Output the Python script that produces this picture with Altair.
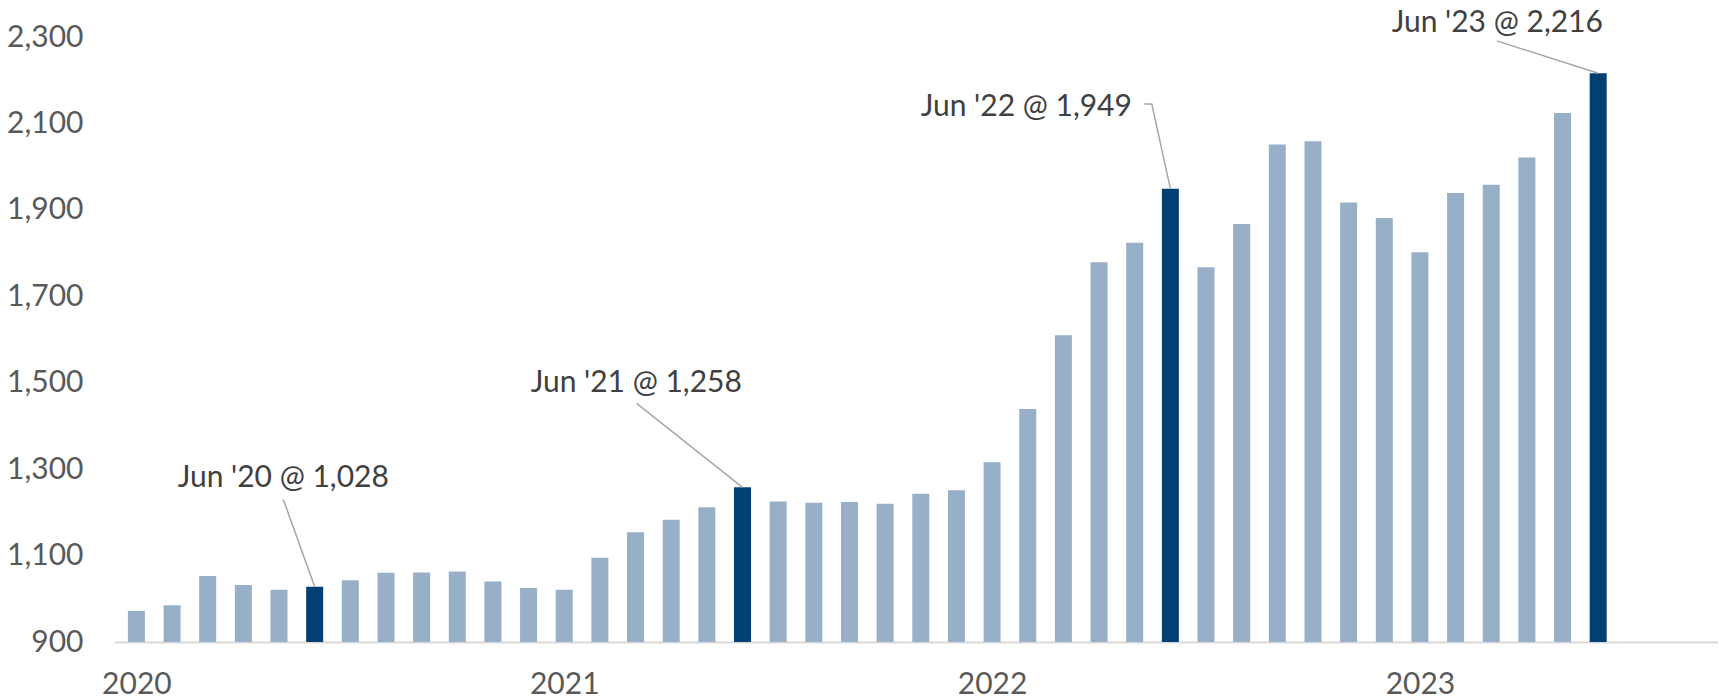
import altair as alt
import pandas as pd

months = [
    "2020-01", "2020-02", "2020-03", "2020-04", "2020-05", "2020-06",
    "2020-07", "2020-08", "2020-09", "2020-10", "2020-11", "2020-12",
    "2021-01", "2021-02", "2021-03", "2021-04", "2021-05", "2021-06",
    "2021-07", "2021-08", "2021-09", "2021-10", "2021-11", "2021-12",
    "2022-01", "2022-02", "2022-03", "2022-04", "2022-05", "2022-06",
    "2022-07", "2022-08", "2022-09", "2022-10", "2022-11", "2022-12",
    "2023-01", "2023-02", "2023-03", "2023-04", "2023-05", "2023-06",
]
values = [
    972, 985, 1053, 1032, 1021, 1028, 1043, 1060, 1061, 1063, 1040, 1025,
    1021, 1095, 1154, 1183, 1212, 1258, 1225, 1222, 1224, 1220, 1243, 1251,
    1316, 1439, 1610, 1779, 1824, 1949, 1767, 1867, 2051, 2059, 1917, 1881,
    1802, 1939, 1958, 2021, 2124, 2216,
]
year_labels = ["2020", "2021", "2022", "2023"]
y_ticks = [900, 1100, 1300, 1500, 1700, 1900, 2100, 2300]

ann_text = ["Jun '20 @ 1,028", "Jun '21 @ 1,258", "Jun '22 @ 1,949", "Jun '23 @ 2,216"]
ann_x = [4.12, 14.02, 24.96, 38.17]
ann_y = [1259, 1479, 2117, 2312]

line_ann = [0, 0, 1, 1, 2, 2, 2, 3, 3]
line_ord = [0, 1, 0, 1, 0, 1, 2, 0, 1]
line_x = [4.12, 5, 14.03, 17, 28.27, 28.48, 29, 38.16, 41]
line_y = [1230, 1028, 1452, 1258, 2145, 2145, 1949, 2291, 2216]

LIGHT = "#97b0c8"
DARK = "#023f73"

bars_df = pd.DataFrame({
    "month": months,
    "idx": list(range(len(months))),
    "value": values,
    "hl": [m.endswith("-06") for m in months],
})
ann_df = pd.DataFrame({"text": ann_text, "x": ann_x, "y": ann_y})
line_df = pd.DataFrame({"ann": line_ann, "ord": line_ord, "x": line_x, "y": line_y})

xscale = alt.Scale(domain=[-0.488, 44.22], nice=False, zero=False)
yscale = alt.Scale(domain=[900, 2300], nice=False, zero=False)

label_expr = "['" + "','".join(year_labels) + "'][datum.value / 12]"

x_axis = alt.Axis(values=[0, 12, 24, 36], labelExpr=label_expr, title=None,
                  grid=False, ticks=False, domain=True, domainColor="#d9d9d9",
                  domainWidth=2, labelFont="Lato", labelFontSize=30,
                  labelColor="#595959", labelPadding=27, labelFlush=False,
                  labelOverlap=False)
y_axis = alt.Axis(values=y_ticks, format=",.0f", title=None, grid=False, ticks=False,
                  domain=False, labelFont="Lato", labelFontSize=30,
                  labelColor="#595959", labelPadding=31)

bars = alt.Chart(bars_df).mark_bar(size=17, clip=True).encode(
    x=alt.X("idx:Q", scale=xscale, axis=x_axis),
    y=alt.Y("value:Q", scale=yscale, axis=y_axis),
    y2=alt.datum(900),
    color=alt.condition("datum.hl", alt.value(DARK), alt.value(LIGHT)),
)

lines = alt.Chart(line_df).mark_line(color="#a6a6a6", strokeWidth=1.5).encode(
    x=alt.X("x:Q", scale=xscale, axis=x_axis),
    y=alt.Y("y:Q", scale=yscale, axis=y_axis),
    detail="ann:N",
    order="ord:Q",
)

texts = alt.Chart(ann_df).mark_text(font="Lato", fontSize=30, color="#404040",
                                    baseline="alphabetic", align="center").encode(
    x=alt.X("x:Q", scale=xscale, axis=x_axis),
    y=alt.Y("y:Q", scale=yscale, axis=y_axis),
    text="text:N",
)

chart = alt.layer(bars, lines, texts).properties(
    width=1604, height=605,
    autosize=alt.AutoSizeParams(type="none"),
    padding={"left": 106, "top": 29, "right": 0, "bottom": 56},
).configure(
    background="white",
    view=alt.ViewConfig(stroke=None),
    axis=alt.AxisConfig(grid=False),
)

chart.save("out.html", embed_options={"renderer": "svg", "actions": False})
